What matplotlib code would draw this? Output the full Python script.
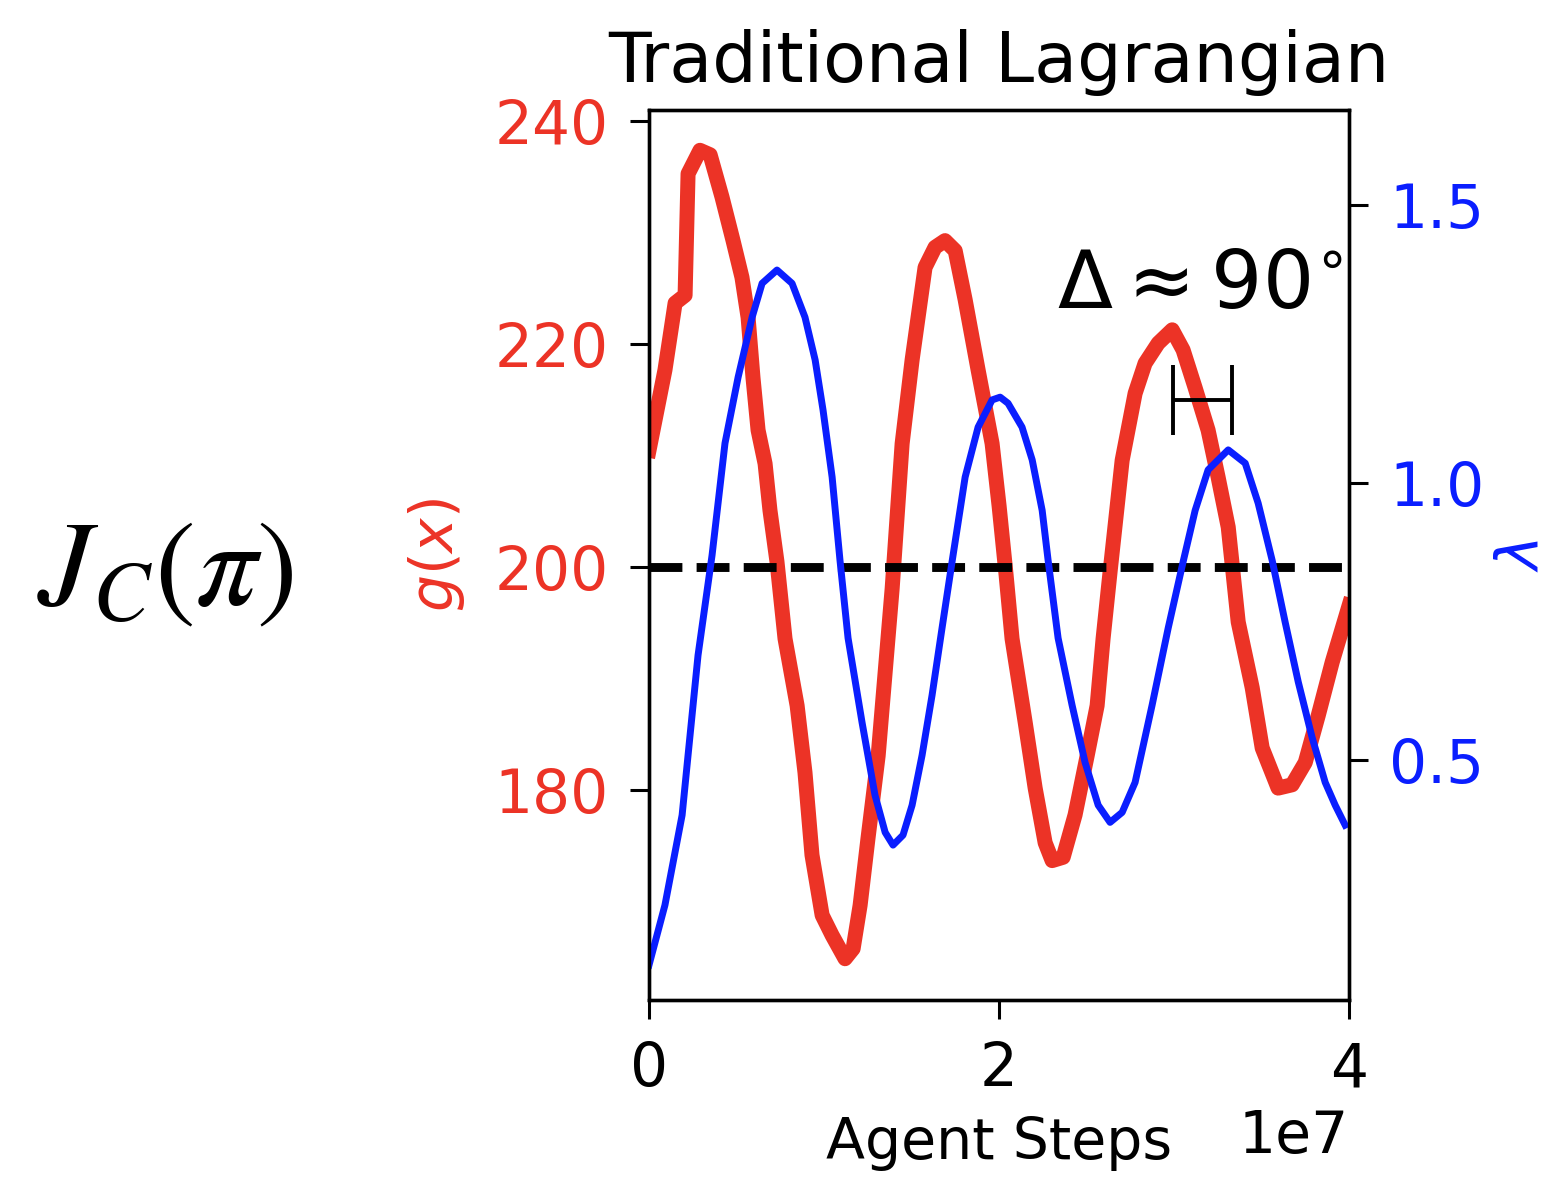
import numpy as np
import matplotlib
matplotlib.use("Agg")
import matplotlib.pyplot as plt

# constraint value g(x) (red) and multiplier lambda (blue), steps in units of 1e7
g_steps = [0, 0.091, 0.149, 0.206, 0.223, 0.291, 0.349, 0.417, 0.48, 0.531, 0.566,
           0.594, 0.623, 0.663, 0.691, 0.731, 0.777, 0.846, 0.891, 0.931, 0.989, 1.046,
           1.12, 1.166, 1.206, 1.251, 1.309, 1.349, 1.389, 1.446, 1.503, 1.577, 1.634,
           1.691, 1.749, 1.806, 1.88, 1.96, 2.0, 2.04, 2.074, 2.149, 2.206, 2.263,
           2.303, 2.366, 2.434, 2.503, 2.56, 2.594, 2.634, 2.703, 2.777, 2.834, 2.909,
           2.989, 3.051, 3.12, 3.194, 3.251, 3.309, 3.366, 3.446, 3.503, 3.594, 3.674,
           3.749, 3.823, 3.903, 4.0]
g_vals = [210.5, 217.7, 223.7, 224.4, 235.3, 237.4, 237.0, 233.2, 229.3, 226.0, 222.4,
          217.0, 212.3, 209.3, 205.1, 200.5, 193.6, 187.6, 181.6, 174.2, 168.8, 167.0,
          164.9, 165.8, 169.7, 175.7, 183.1, 190.6, 198.1, 211.1, 218.6, 226.9, 228.7,
          229.3, 228.4, 224.0, 217.7, 211.1, 205.5, 199.3, 193.6, 186.1, 180.2, 175.3,
          173.7, 174.0, 177.8, 183.1, 187.6, 193.6, 199.6, 209.6, 215.6, 218.3, 220.1,
          221.3, 219.5, 216.1, 212.3, 208.1, 203.6, 195.1, 189.2, 183.8, 180.2, 180.5,
          182.5, 186.7, 191.5, 196.6]

lam_steps = [0, 0.091, 0.189, 0.223, 0.28, 0.36, 0.434, 0.509, 0.589, 0.646, 0.731,
             0.817, 0.891, 0.949, 0.994, 1.046, 1.091, 1.137, 1.217, 1.291, 1.349, 1.394,
             1.451, 1.503, 1.56, 1.617, 1.674, 1.731, 1.806, 1.88, 1.96, 2.006, 2.051,
             2.131, 2.189, 2.246, 2.28, 2.337, 2.417, 2.491, 2.566, 2.634, 2.703, 2.777,
             2.874, 2.966, 3.051, 3.12, 3.194, 3.309, 3.406, 3.48, 3.56, 3.634, 3.709,
             3.789, 3.863, 3.92, 3.977]
lam_vals = [0.131, 0.239, 0.401, 0.509, 0.689, 0.869, 1.071, 1.19, 1.298, 1.359, 1.383,
            1.359, 1.298, 1.221, 1.131, 1.01, 0.86, 0.72, 0.568, 0.437, 0.37, 0.347,
            0.365, 0.419, 0.509, 0.617, 0.738, 0.857, 1.01, 1.1, 1.149, 1.154, 1.143,
            1.1, 1.041, 0.95, 0.86, 0.72, 0.599, 0.496, 0.419, 0.388, 0.406, 0.46,
            0.599, 0.738, 0.857, 0.95, 1.023, 1.059, 1.035, 0.963, 0.86, 0.749, 0.641,
            0.54, 0.46, 0.419, 0.383]

threshold = 200
shift_center = 3.16   # 1e7
shift_half = 0.169    # 1e7
shift_y = 215

red = '#ec3326'
blue = '#0a1eff'

fig = plt.figure(figsize=(7.745, 5.885), dpi=200)
ax = fig.add_axes([0.419, 0.1504, 0.452, 0.756])
ax2 = ax.twinx()

ax.plot(np.array(g_steps) * 1e7, g_vals, color=red, lw=5.4, zorder=2,
        solid_joinstyle='round')
ax.axhline(threshold, color='k', ls='--', lw=3.2, zorder=3)
ax.errorbar(shift_center * 1e7, shift_y, xerr=shift_half * 1e7, color='k',
            lw=1.4, capsize=12.6, capthick=1.4, zorder=4)
ax.text(3.96e7, 223.3, r'$\Delta \approx 90^{\circ}$', fontsize=29, ha='right',
        va='baseline')
ax2.plot(np.array(lam_steps) * 1e7, lam_vals, color=blue, lw=2.5,
         solid_joinstyle='round')

ax.set_xlim(0, 4e7)
ax.set_ylim(161.2, 241)
ax2.set_ylim(0.068, 1.671)
ax.set_xticks([0, 2e7, 4e7])
ax.set_yticks([180, 200, 220, 240])
ax2.set_yticks([0.5, 1.0, 1.5])

ax.tick_params(axis='both', labelsize=21.5, length=7, width=1.1, pad=7.5)
ax.tick_params(axis='y', labelcolor=red)
ax2.tick_params(axis='y', labelsize=21.5, length=7, width=1.1, pad=7.5, labelcolor=blue)
ax.xaxis.get_offset_text().set_fontsize(21)
for a in (ax, ax2):
    for s in a.spines.values():
        s.set_linewidth(1.2)

ax.set_xlabel('Agent Steps', fontsize=20.5, labelpad=6)
ax.set_ylabel(r'$g(x)$', fontsize=21, color=red, labelpad=10)
ax2.set_ylabel(r'$\lambda$', fontsize=21, color=blue, labelpad=3)
ax.set_title('Traditional Lagrangian', fontsize=25.2, pad=10)

fig.text(0.1065, 0.514, r'$J_C(\pi)$', fontsize=44, ha='center', va='center',
         math_fontfamily='stix')

fig.savefig('out.png', dpi=200)
